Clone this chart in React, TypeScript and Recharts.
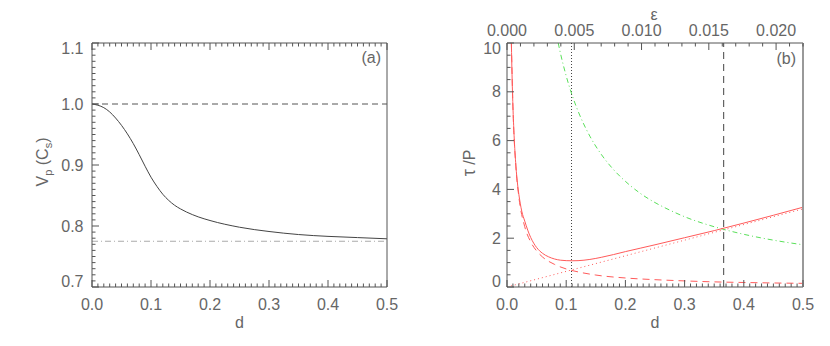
import React from 'react';
import { LineChart, Line, XAxis, YAxis, ReferenceLine } from 'recharts';

const FONT = '"Liberation Sans", Arial, Helvetica, sans-serif';
const TEXT = '#666';
const AXIS = '#555';
const RED = '#ff5a5a';
const GREEN = '#5ae05a';

// panel (a): phase speed against d
const dA = [0, 0.01, 0.02, 0.03, 0.04, 0.05, 0.06, 0.07, 0.08, 0.09, 0.1, 0.11, 0.12, 0.13, 0.14, 0.15, 0.16, 0.18, 0.2, 0.25, 0.3, 0.35, 0.4, 0.45, 0.5];
const vpA = [1.0, 0.998, 0.994, 0.987, 0.977, 0.965, 0.951, 0.935, 0.917, 0.898, 0.88, 0.865, 0.852, 0.842, 0.834, 0.828, 0.823, 0.815, 0.809, 0.798, 0.791, 0.786, 0.783, 0.781, 0.779];
const dLimits = [0, 0.5];
const vpUpper = [1.0, 1.0];
const vpLower = [0.775, 0.775];

// panel (b): damping time / period
const dTotal = [0.0074, 0.008, 0.009, 0.01, 0.012, 0.015, 0.018, 0.02, 0.025, 0.03, 0.035, 0.04, 0.045, 0.05, 0.06, 0.07, 0.08, 0.09, 0.1, 0.11, 0.12, 0.14, 0.16, 0.18, 0.2, 0.225, 0.25, 0.3, 0.35, 0.4, 0.45, 0.5];
const tauTotal = [10.0, 9.25, 8.23, 7.42, 6.2, 4.98, 4.18, 3.8, 3.1, 2.7, 2.33, 2.03, 1.8, 1.62, 1.38, 1.24, 1.15, 1.1, 1.08, 1.075, 1.08, 1.13, 1.22, 1.33, 1.45, 1.59, 1.73, 2.02, 2.31, 2.62, 2.94, 3.27];

const dDashed = [0.0074, 0.01, 0.015, 0.02, 0.03, 0.04, 0.05, 0.06, 0.08, 0.1, 0.12, 0.15, 0.2, 0.25, 0.3, 0.35, 0.4, 0.45, 0.5];
const tauDashed = [10.0, 7.4, 4.93, 3.7, 2.47, 1.85, 1.48, 1.23, 0.93, 0.74, 0.62, 0.49, 0.37, 0.3, 0.25, 0.21, 0.185, 0.165, 0.15];

const dDotted = [0, 0.5];
const tauDotted = [0, 3.2];

const dGreen = [0.0865, 0.09, 0.1, 0.11, 0.12, 0.14, 0.16, 0.18, 0.2, 0.225, 0.25, 0.275, 0.3, 0.35, 0.4, 0.45, 0.5];
const tauGreen = [10.0, 9.61, 8.65, 7.86, 7.21, 6.18, 5.41, 4.81, 4.33, 3.84, 3.46, 3.15, 2.88, 2.47, 2.16, 1.92, 1.73];

const dMinimum = 0.109;
const dCross = 0.366;

// ε on the top axis of (b) runs 0 .. 0.022 over d = 0 .. 0.5
const EPS_PER_D = 0.022 / 0.5;

// ticks
const xMajor = [0, 0.1, 0.2, 0.3, 0.4, 0.5];
const xLabels = ['0.0', '0.1', '0.2', '0.3', '0.4', '0.5'];
const yMajorA = [0.7, 0.8, 0.9, 1.0, 1.1];
const yLabelsA = ['0.7', '0.8', '0.9', '1.0', '1.1'];
const yMajorB = [0, 2, 4, 6, 8, 10];
const yLabelsB = ['0', '2', '4', '6', '8', '10'];
const epsMajor = [0, 0.005, 0.01, 0.015, 0.02];
const epsLabels = ['0.000', '0.005', '0.010', '0.015', '0.020'];

const steps = (from: number, to: number, step: number) =>
  Array.from({ length: Math.round((to - from) / step) + 1 }, (_, i) => +(from + i * step).toFixed(6));
const xMinor = steps(0, 0.5, 0.01);
const yMinorA = steps(0.7, 1.1, 0.01);
const yMinorB = steps(0, 10, 0.5);
const epsMinor = steps(0, 0.022, 0.001);
const epsTicksInD = epsMinor.map((e) => Math.min(0.5, +(e / EPS_PER_D).toFixed(6)));

const zip = (xs: number[], ys: number[]) => xs.map((d, i) => ({ d, v: ys[i] }));

type Side = 'bottom' | 'top' | 'left' | 'right';

function axisTick(side: Side, majors: number[], labels: string[] | null, lo: number, hi: number, gap = 8, k = 1) {
  return (props: any) => {
    const { x, y, payload } = props;
    const v = payload.value * k;
    const i = majors.findIndex((m) => Math.abs(m - v) < 1e-6);
    const len = i >= 0 ? 7 : 3.5;
    let x2 = x;
    let y2 = y;
    if (side === 'bottom') y2 = y - len;
    if (side === 'top') y2 = y + len;
    if (side === 'left') x2 = x + len;
    if (side === 'right') x2 = x - len;
    let label = null;
    if (labels && i >= 0) {
      const common = { fill: TEXT, fontFamily: FONT, fontSize: 16 };
      if (side === 'bottom') label = <text x={x} y={y + 23} textAnchor="middle" {...common}>{labels[i]}</text>;
      if (side === 'top') label = <text x={x} y={y - 7} textAnchor="middle" {...common}>{labels[i]}</text>;
      if (side === 'left') {
        const dy = Math.abs(v - hi) < 1e-6 ? 11 : Math.abs(v - lo) < 1e-6 ? 0 : 5.5;
        label = <text x={x - gap} y={y + dy} textAnchor="end" {...common}>{labels[i]}</text>;
      }
    }
    return (
      <g>
        <line x1={x} y1={y} x2={x2} y2={y2} stroke={AXIS} strokeWidth={1} />
        {label}
      </g>
    );
  };
}

const axisCommon = { tickLine: false, tickSize: 0, tickMargin: 0, interval: 0 as const };

function PanelA() {
  return (
    <LineChart width={420} height={346} margin={{ top: 42, right: 32, bottom: 58, left: 91 }}>
      <XAxis xAxisId="b" dataKey="d" type="number" domain={[0, 0.5]} ticks={xMinor} height={1}
        orientation="bottom" stroke={AXIS} {...axisCommon}
        tick={axisTick('bottom', xMajor, xLabels, 0, 0.5)} />
      <XAxis xAxisId="t" dataKey="d" type="number" domain={[0, 0.5]} ticks={xMinor} height={1}
        orientation="top" stroke={AXIS} {...axisCommon}
        tick={axisTick('top', xMajor, null, 0, 0.5)} />
      <YAxis yAxisId="l" type="number" domain={[0.7, 1.1]} ticks={yMinorA} width={1}
        orientation="left" stroke={AXIS} {...axisCommon} allowDataOverflow
        tick={axisTick('left', yMajorA, yLabelsA, 0.7, 1.1, 8.5)} />
      <YAxis yAxisId="r" type="number" domain={[0.7, 1.1]} ticks={yMinorA} width={1}
        orientation="right" stroke={AXIS} {...axisCommon}
        tick={axisTick('right', yMajorA, null, 0.7, 1.1)} />
      <Line xAxisId="t" yAxisId="l" data={zip(dLimits, vpUpper)} dataKey="v" type="linear" stroke="#555"
        strokeDasharray="6 4" dot={false} isAnimationActive={false} />
      <Line xAxisId="t" yAxisId="l" data={zip(dLimits, vpLower)} dataKey="v" type="linear" stroke="#aaa"
        strokeDasharray="6 3 1 3" dot={false} isAnimationActive={false} />
      <Line xAxisId="b" yAxisId="l" data={zip(dA, vpA)} dataKey="v" type="monotone" stroke="#444" strokeWidth={1}
        dot={false} isAnimationActive={false} />
    </LineChart>
  );
}

function PanelB() {
  return (
    <LineChart width={410} height={346} margin={{ top: 42, right: 26, bottom: 58, left: 86 }}>
      <XAxis xAxisId="b" dataKey="d" type="number" domain={[0, 0.5]} ticks={xMinor} height={1}
        orientation="bottom" stroke={AXIS} {...axisCommon}
        tick={axisTick('bottom', xMajor, xLabels, 0, 0.5)} />
      <XAxis xAxisId="t" dataKey="d" type="number" domain={[0, 0.5]} ticks={epsTicksInD} height={1}
        orientation="top" stroke={AXIS} {...axisCommon}
        tick={axisTick('top', epsMajor, epsLabels, 0, 0.022, 8, EPS_PER_D)} />
      <YAxis yAxisId="l" type="number" domain={[0, 10]} ticks={yMinorB} width={1}
        orientation="left" stroke={AXIS} {...axisCommon} allowDataOverflow
        tick={axisTick('left', yMajorB, yLabelsB, 0, 10, 6)} />
      <YAxis yAxisId="r" type="number" domain={[0, 10]} ticks={yMinorB} width={1}
        orientation="right" stroke="#999" strokeWidth={2} {...axisCommon}
        tick={axisTick('right', yMajorB, null, 0, 10)} />
      <ReferenceLine xAxisId="b" yAxisId="l" x={dMinimum} stroke="#444" strokeDasharray="1 2" />
      <ReferenceLine xAxisId="b" yAxisId="l" x={dCross} stroke="#444" strokeDasharray="7 5" />
      <Line xAxisId="t" yAxisId="l" data={zip(dDotted, tauDotted)} dataKey="v" type="linear" stroke={RED}
        strokeDasharray="1 3" dot={false} isAnimationActive={false} />
      <Line xAxisId="b" yAxisId="l" data={zip(dDashed, tauDashed)} dataKey="v" type="monotone" stroke={RED}
        strokeDasharray="7 5" dot={false} isAnimationActive={false} />
      <Line xAxisId="b" yAxisId="l" data={zip(dGreen, tauGreen)} dataKey="v" type="monotone" stroke={GREEN}
        strokeDasharray="5 3 1 3" dot={false} isAnimationActive={false} />
      <Line xAxisId="b" yAxisId="l" data={zip(dTotal, tauTotal)} dataKey="v" type="monotone" stroke={RED}
        strokeWidth={1} dot={false} isAnimationActive={false} />
    </LineChart>
  );
}

export default function App() {
  const t = { fill: TEXT, fontFamily: FONT, fontSize: 16 };
  return (
    <div style={{ position: 'absolute', left: 0, top: 0, width: 830, height: 346, background: '#fff' }}>
      <div style={{ position: 'absolute', left: 0, top: 0 }}>
        <PanelA />
      </div>
      <div style={{ position: 'absolute', left: 420, top: 0 }}>
        <PanelB />
      </div>
      <svg width={830} height={346} style={{ position: 'absolute', left: 0, top: 0, pointerEvents: 'none' }}>
        <text x={239.5} y={328} textAnchor="middle" {...t}>d</text>
        <text x={655} y={328} textAnchor="middle" {...t}>d</text>
        <text x={381} y={63} textAnchor="end" {...t}>(a)</text>
        <text x={796} y={64} textAnchor="end" {...t}>(b)</text>
        <text x={654} y={20} textAnchor="middle" {...t}>ε</text>
        <text transform="translate(48,162) rotate(-90)" textAnchor="middle" {...t}>
          V<tspan fontSize={11} dy={4}>p</tspan>
          <tspan dy={-4}> (C</tspan>
          <tspan fontSize={11} dy={4}>s</tspan>
          <tspan dy={-4}>)</tspan>
        </text>
        <text transform="translate(475,163) rotate(-90)" textAnchor="middle" {...t}>
          <tspan fontSize={18}>τ</tspan> /P
        </text>
      </svg>
    </div>
  );
}
